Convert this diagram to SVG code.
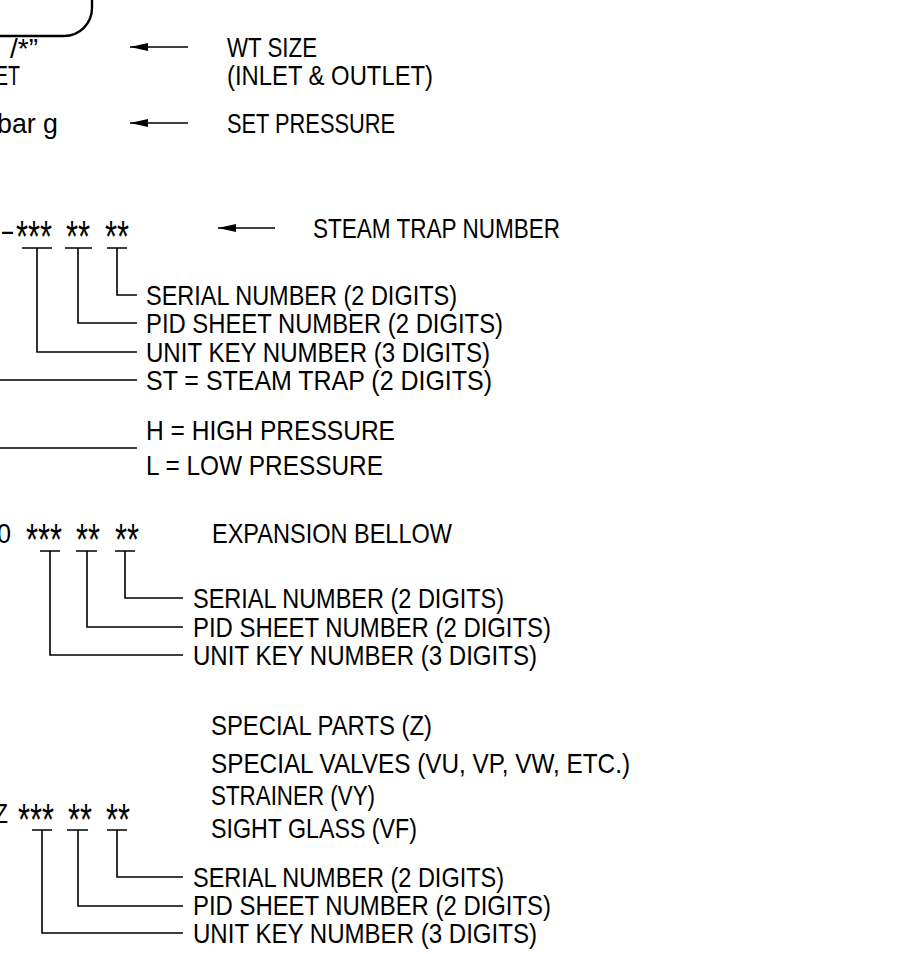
<svg xmlns="http://www.w3.org/2000/svg" width="901" height="954" viewBox="0 0 901 954">
<style>
.t{font-family:"Liberation Sans",Arial,sans-serif;font-size:28px;fill:#000}
.a{font-family:"Liberation Sans",Arial,sans-serif;font-size:45px;fill:#000}
.l{fill:none;stroke:#000;stroke-width:1.6}
.ar{fill:none;stroke:#000;stroke-width:1.6;marker-end:url(#ah)}
</style>
<defs>
<marker id="ah" markerUnits="userSpaceOnUse" viewBox="0 -4 18 8" refX="18" refY="0" markerWidth="18" markerHeight="8" orient="auto">
<path d="M0,-4 L18,0 L0,4 z" fill="#000"/>
</marker>
</defs>
<rect width="901" height="954" fill="#fff"/>

<g id="tag-box">
<path d="M-5 36 H64 A28 28 0 0 0 92 8 V-5" fill="none" stroke="#000" stroke-width="2.4"/>
<text class="t" x="38" y="58" text-anchor="end">/*”</text>
<text class="t" x="-5" y="85" textLength="25" lengthAdjust="spacingAndGlyphs">ET</text>
<text class="t" x="-3" y="133" textLength="61" lengthAdjust="spacingAndGlyphs">bar g</text>
</g>

<g id="wt-size">
<text class="t" x="227" y="57" textLength="90" lengthAdjust="spacingAndGlyphs">WT SIZE</text>
<text class="t" x="227" y="85" textLength="206" lengthAdjust="spacingAndGlyphs">(INLET &amp; OUTLET)</text>
</g>
<g id="set-pressure">
<text class="t" x="227" y="133" textLength="168" lengthAdjust="spacingAndGlyphs">SET PRESSURE</text>
</g>

<g id="steam-trap-code">
<text class="t" x="0" y="240" textLength="15" lengthAdjust="spacingAndGlyphs">-</text>
<text class="a" x="16" y="252" textLength="36" lengthAdjust="spacingAndGlyphs">***</text>
<text class="a" x="66" y="252" textLength="24" lengthAdjust="spacingAndGlyphs">**</text>
<text class="a" x="105" y="252" textLength="24" lengthAdjust="spacingAndGlyphs">**</text>
</g>
<g id="steam-trap-legend">
<text class="t" x="313" y="238" textLength="247" lengthAdjust="spacingAndGlyphs">STEAM TRAP NUMBER</text>
<text class="t" x="146" y="305" textLength="311" lengthAdjust="spacingAndGlyphs">SERIAL NUMBER (2 DIGITS)</text>
<text class="t" x="146" y="333" textLength="357" lengthAdjust="spacingAndGlyphs">PID SHEET NUMBER (2 DIGITS)</text>
<text class="t" x="146" y="362" textLength="344" lengthAdjust="spacingAndGlyphs">UNIT KEY NUMBER (3 DIGITS)</text>
<text class="t" x="146" y="390" textLength="346" lengthAdjust="spacingAndGlyphs">ST = STEAM TRAP (2 DIGITS)</text>
<text class="t" x="146" y="440" textLength="249" lengthAdjust="spacingAndGlyphs">H = HIGH PRESSURE</text>
<text class="t" x="146" y="475" textLength="237" lengthAdjust="spacingAndGlyphs">L = LOW PRESSURE</text>
</g>

<g id="bellow-code">
<text class="t" x="-3" y="543" textLength="14" lengthAdjust="spacingAndGlyphs">0</text>
<text class="a" x="26" y="555" textLength="36" lengthAdjust="spacingAndGlyphs">***</text>
<text class="a" x="76" y="555" textLength="24" lengthAdjust="spacingAndGlyphs">**</text>
<text class="a" x="115" y="555" textLength="24" lengthAdjust="spacingAndGlyphs">**</text>
</g>
<g id="bellow-legend">
<text class="t" x="212" y="543" textLength="240" lengthAdjust="spacingAndGlyphs">EXPANSION BELLOW</text>
<text class="t" x="193" y="608" textLength="311" lengthAdjust="spacingAndGlyphs">SERIAL NUMBER (2 DIGITS)</text>
<text class="t" x="193" y="637" textLength="358" lengthAdjust="spacingAndGlyphs">PID SHEET NUMBER (2 DIGITS)</text>
<text class="t" x="193" y="665" textLength="344" lengthAdjust="spacingAndGlyphs">UNIT KEY NUMBER (3 DIGITS)</text>
</g>

<g id="special-code">
<text class="t" x="-6" y="823" textLength="14" lengthAdjust="spacingAndGlyphs">Z</text>
<text class="a" x="18" y="835" textLength="36" lengthAdjust="spacingAndGlyphs">***</text>
<text class="a" x="68" y="835" textLength="24" lengthAdjust="spacingAndGlyphs">**</text>
<text class="a" x="106" y="835" textLength="24" lengthAdjust="spacingAndGlyphs">**</text>
</g>
<g id="special-legend">
<text class="t" x="211" y="735" textLength="221" lengthAdjust="spacingAndGlyphs">SPECIAL PARTS (Z)</text>
<text class="t" x="211" y="773" textLength="419" lengthAdjust="spacingAndGlyphs">SPECIAL VALVES (VU, VP, VW, ETC.)</text>
<text class="t" x="211" y="805" textLength="164" lengthAdjust="spacingAndGlyphs">STRAINER (VY)</text>
<text class="t" x="211" y="838" textLength="206" lengthAdjust="spacingAndGlyphs">SIGHT GLASS (VF)</text>
<text class="t" x="193" y="887" textLength="311" lengthAdjust="spacingAndGlyphs">SERIAL NUMBER (2 DIGITS)</text>
<text class="t" x="193" y="915" textLength="358" lengthAdjust="spacingAndGlyphs">PID SHEET NUMBER (2 DIGITS)</text>
<text class="t" x="193" y="943" textLength="344" lengthAdjust="spacingAndGlyphs">UNIT KEY NUMBER (3 DIGITS)</text>
</g>

<g id="connectors">
<line class="ar" x1="188" y1="47" x2="130" y2="47"/>
<line class="ar" x1="188" y1="123" x2="130" y2="123"/>
<line class="ar" x1="275" y1="228" x2="218" y2="228"/>

<path class="l" d="M22 248 H52 M37 248 V352 H137"/>
<path class="l" d="M65 248 H92 M78 248 V323 H137"/>
<path class="l" d="M107 248 H127 M117 248 V295 H137"/>
<path class="l" d="M0 380 H137 M0 448 H137"/>

<path class="l" d="M40 551 H60 M50 551 V655 H183"/>
<path class="l" d="M76 551 H97 M87 551 V627 H183"/>
<path class="l" d="M115 551 H135 M125 551 V598 H183"/>

<path class="l" d="M32 830 H52 M42 830 V933 H183"/>
<path class="l" d="M67 830 H88 M78 830 V906 H183"/>
<path class="l" d="M107 830 H127 M117 830 V877 H183"/>
</g>
</svg>
